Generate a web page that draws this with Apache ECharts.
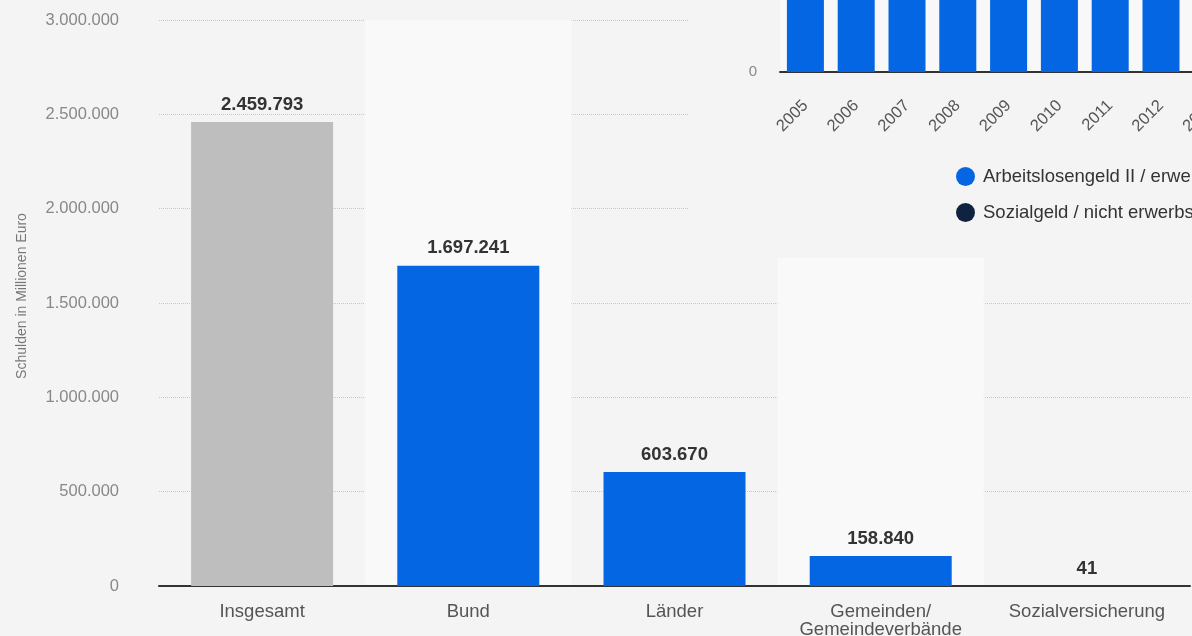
<!DOCTYPE html>
<html><head><meta charset="utf-8">
<script src="https://cdn.jsdelivr.net/npm/echarts@6/dist/echarts.min.js"></script>
<style>html,body{margin:0;padding:0;background:#f4f4f4}#c{width:1192px;height:636px}</style>
</head><body><div id="c"></div>
<script>
const categories = ['Insgesamt', 'Bund', 'Länder', 'Gemeinden/\nGemeindeverbände', 'Sozialversicherung'];
const debtValues = [2459793, 1697241, 603670, 158840, 41];
const yTicks = [0, 500000, 1000000, 1500000, 2000000, 2500000, 3000000];
const insetYears = ['2005','2006','2007','2008','2009','2010','2011','2012','2013','2014','2015','2016','2017','2018'];
const insetALG2 = [4982000, 5392000, 5277000, 5011000, 4909000, 4894000, 4615000, 4443000, 4390000, 4387000, 4327000, 4311000, 4362000, 4142000];
const insetSozialgeld = [1772000, 1907000, 1891000, 1809000, 1767000, 1737000, 1680000, 1650000, 1620000, 1640000, 1680000, 1760000, 1790000, 1640000];

const fmt = v => String(v).replace(/\B(?=(\d{3})+(?!\d))/g, '.');
const FONT = '"Liberation Sans", Arial, sans-serif';
const chart = echarts.init(document.getElementById('c'));
chart.setOption({
  backgroundColor: '#f4f4f4',
  animation: false,
  textStyle: { fontFamily: FONT },
  graphic: [{
    type: 'rect', z: 5, zlevel: 0,
    shape: { x: 688, y: 0, width: 504, height: 258 },
    style: { fill: '#f4f4f4' }
  }],
  legend: {
    orient: 'vertical', left: 951, top: 162, itemGap: 17, z: 10,
    icon: 'circle', itemWidth: 19, itemHeight: 19,
    textStyle: { fontSize: 18.5, color: '#333', fontFamily: FONT, padding: [0, 0, 0, 3] },
    data: ['Arbeitslosengeld II / erwerbsfähige Leistungsberechtigte', 'Sozialgeld / nicht erwerbsfähige Leistungsberechtigte']
  },
  grid: [
    { left: 159, right: 2, top: 20, bottom: 50, outerBoundsMode: 'none' },
    { left: 780, top: -328, height: 400, width: 50.8 * insetYears.length, outerBoundsMode: 'none', containLabel: false,
      show: true, backgroundColor: '#f8f8f8', borderWidth: 0, z: 6 }
  ],
  xAxis: [{
    type: 'category', gridIndex: 0, data: categories,
    axisLine: { lineStyle: { color: '#333', width: 2 } },
    axisTick: { show: false },
    splitArea: { show: true, areaStyle: { color: ['rgba(0,0,0,0)', '#f9f9f9'] } },
    axisLabel: { color: '#555', fontSize: 18.5, margin: 17, lineHeight: 18, interval: 0 }
  }, {
    type: 'category', gridIndex: 1, data: insetYears, z: 7,
    axisLine: { lineStyle: { color: '#333', width: 2 } },
    axisTick: { show: false },
    axisLabel: { color: '#555', fontSize: 16.5, rotate: 45, margin: 31, interval: 0 }
  }],
  yAxis: [{
    type: 'value', gridIndex: 0, min: 0, max: 3000000, interval: 500000,
    name: 'Schulden in Millionen Euro', nameLocation: 'middle', nameGap: 130,
    nameTextStyle: { color: '#777', fontSize: 14, padding: [0, 0, 0, 14] },
    axisLine: { show: false }, axisTick: { show: false },
    axisLabel: { color: '#888', fontSize: 16.5, margin: 40, formatter: fmt },
    splitLine: { lineStyle: { color: '#c8c8c8', type: [1, 1], width: 1 } }
  }, {
    type: 'value', gridIndex: 1, min: 0, max: 6000000, interval: 6000000, z: 7,
    axisLine: { show: false }, axisTick: { show: false },
    axisLabel: { color: '#888', fontSize: 15, margin: 23, formatter: v => v === 0 ? '0' : '' },
    splitLine: { show: false }
  }],
  series: [{
    type: 'bar', xAxisIndex: 0, yAxisIndex: 0, barWidth: 142,
    data: debtValues.map((v, i) => ({ value: v, itemStyle: { color: i === 0 ? '#bebebe' : '#0466e3' } })),
    label: { show: true, position: 'top', distance: 8, color: '#333', fontSize: 18.5, fontWeight: 'bold', formatter: p => fmt(p.value) }
  }, {
    name: 'Arbeitslosengeld II / erwerbsfähige Leistungsberechtigte',
    type: 'bar', xAxisIndex: 1, yAxisIndex: 1, stack: 'a', barWidth: 37, z: 8,
    itemStyle: { color: '#0466e3' }, data: insetALG2
  }, {
    name: 'Sozialgeld / nicht erwerbsfähige Leistungsberechtigte',
    type: 'bar', xAxisIndex: 1, yAxisIndex: 1, stack: 'a', barWidth: 37, z: 8,
    itemStyle: { color: '#0f2341' }, data: insetSozialgeld
  }]
});
</script></body></html>
